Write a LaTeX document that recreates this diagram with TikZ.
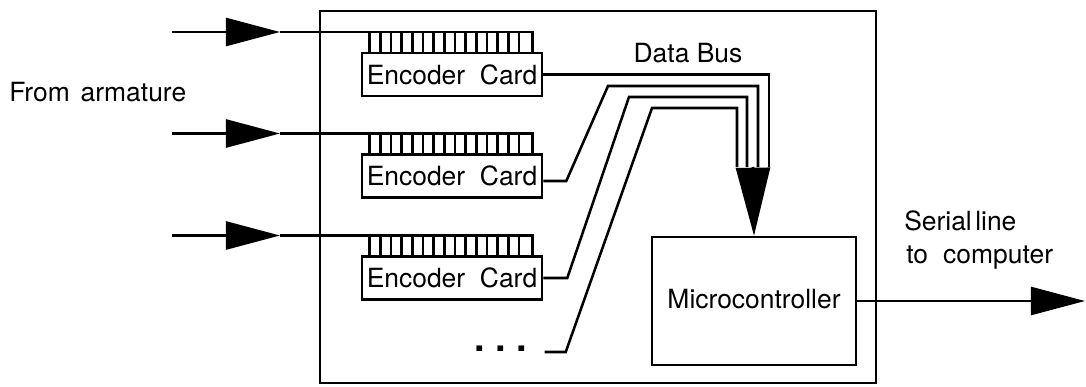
\documentclass[tikz,border=0pt]{standalone}
\usepackage{fontspec}
\setmainfont{TeX Gyre Heros}
\usepackage{tikz}
\usetikzlibrary{calc, arrows.meta, positioning}

\begin{document}
\begin{tikzpicture}[x=0.025cm, y=-0.025cm, line width=1.8pt,
    every node/.style={font=\fontsize{18.8}{23.5}\selectfont},
    label/.style={inner sep=0pt},
    card/.style={draw, minimum width=4.5cm, minimum height=1.075cm, inner sep=0pt},
    intip/.style={-{Triangle[length=1.35cm, width=0.7cm]}},
    bustip/.style={-{Triangle[length=1.7cm, width=0.85cm]}}]

    \useasboundingbox (0,0) rectangle (1086,387);

    % =================================================================
    % 1. BOARD, CARDS AND MICROCONTROLLER
    % =================================================================
    \node[draw, minimum width=13.9cm, minimum height=9.3cm] (board) at (598,197) {};

    \node[card] (card1) at (452,74.5) {Encoder\hspace{0.556em}Card};
    \node[card] (card2) at (452,176) {Encoder\hspace{0.556em}Card};
    \node[card] (card3) at (452,278) {Encoder\hspace{0.556em}Card};

    \node[draw, minimum width=5.1cm, minimum height=3.2cm, inner sep=0pt] (micro) at (754,301) {\raisebox{3pt}{Microcontroller}};

    % further cards
    \node[label, font=\fontsize{27}{27}\selectfont\bfseries] (dots) at (501,349) {.\hspace{0.28em}.\hspace{0.28em}.};

    % =================================================================
    % 2. INPUT LINES FROM THE ARMATURE AND CONNECTOR PINS
    % =================================================================
    \foreach \i/\y in {1/32, 2/133.5, 3/235.5} {
        \coordinate (In\i) at (172,\y);
        \coordinate (Tip\i) at (280,\y);
        \draw[intip] (In\i) -- (Tip\i);
        \draw (Tip\i) -| ($(card\i.north east)+(-11,0)$);
        \foreach \k in {0,...,14}
            \draw ($(card\i.north west)+(9+10.667*\k,0)$) -- ++(0,-21);
    }

    % =================================================================
    % 3. DATA BUS
    % =================================================================
    \coordinate (Bus1) at (769,167);
    \coordinate (Bus2) at (758,167);
    \coordinate (Bus3) at (747,167);
    \coordinate (Bus4) at (737,167);
    \coordinate (BusEnd) at (753,167);

    \draw (card1.east) -| (Bus1);
    \draw ($(card2.east)+(0,5)$) -- ++(23,0) -- (608,86) -| (Bus2);
    \draw (card3.east) -- ++(24,0) -- (629,97) -| (Bus3);
    \draw ($(dots.east)+(16,3)$) -- ++(21,0) -- (652,108) -| (Bus4);

    \draw[bustip] (BusEnd) -- (micro.north);

    % serial line out
    \coordinate (SerialEnd) at (1085,301);
    \draw[intip] (micro.east) -- (SerialEnd);

    % =================================================================
    % 4. LABELS
    % =================================================================
    \node[label, anchor=base west] (armature) at (8,102) {From\hspace{0.41em}armature};
    \node[label] (bus) at (688,53) {Data Bus};
    \node[label, anchor=base west] (serialA) at (903,230) {Serial\hspace{0.13em}line};
    \node[label, anchor=base west] (serialB) at (905,263) {to\hspace{0.57em}computer};

\end{tikzpicture}
\end{document}
